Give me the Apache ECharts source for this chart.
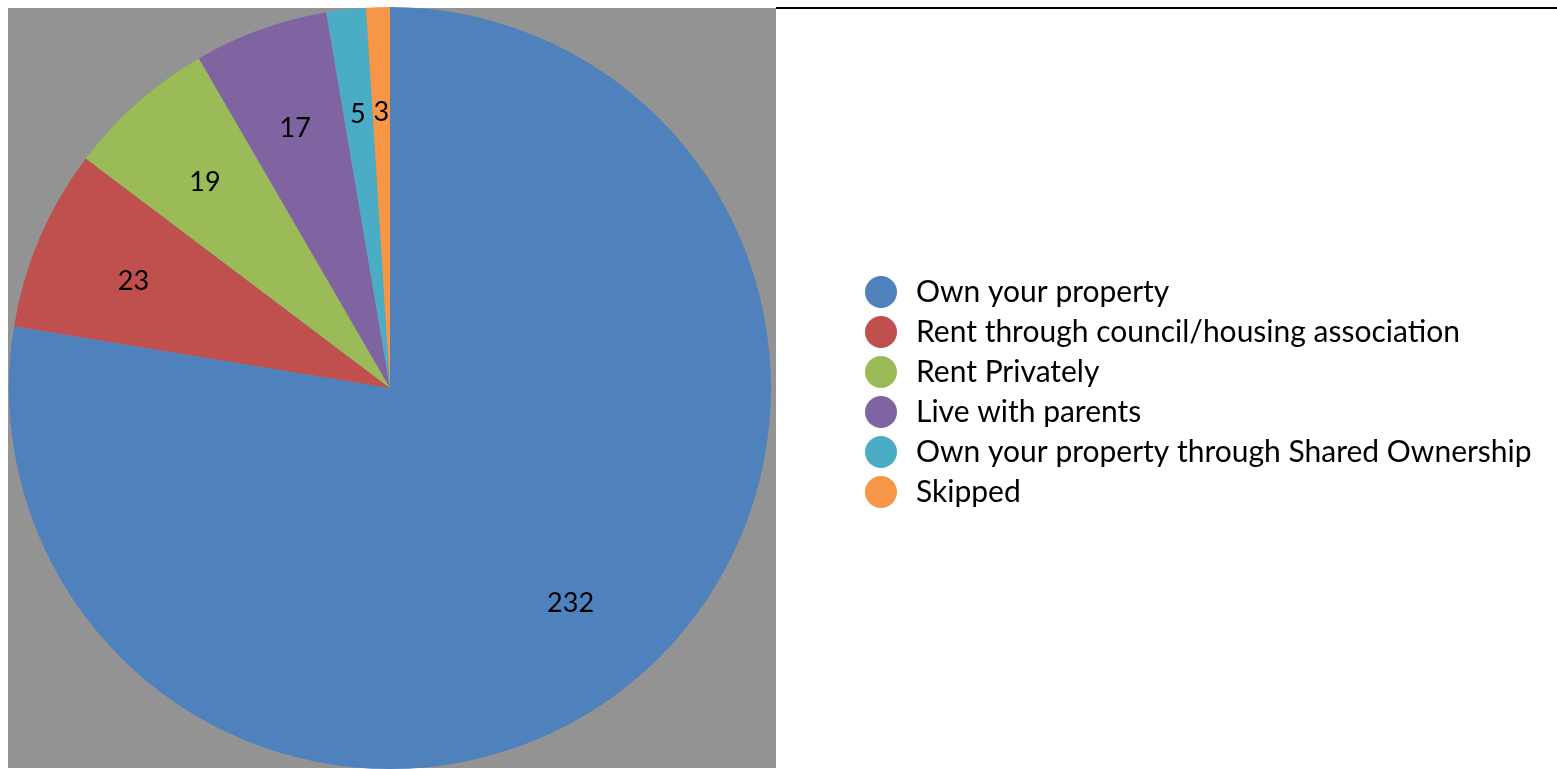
<!DOCTYPE html>
<html><head><meta charset="utf-8">
<script src="https://cdn.jsdelivr.net/npm/echarts@6/dist/echarts.min.js"></script>
<style>html,body{margin:0;padding:0;background:#fff}#c{width:1557px;height:769px}</style>
</head><body><div id="c"></div>
<script>
const categories = ['Own your property','Rent through council/housing association','Rent Privately','Live with parents','Own your property through Shared Ownership','Skipped'];
const values = [232, 23, 19, 17, 5, 3];
const colors = ['#4F81BD','#C0504D','#9BBB59','#8064A2','#4BACC6','#F79646'];

const data = categories.map((n,i)=>({name:n, value:values[i], itemStyle:{color:colors[i]}}));
const chart = echarts.init(document.getElementById('c'));
const FONT = 'Lato, "Open Sans", sans-serif';
chart.setOption({
  animation:false,
  graphic:[
    {type:'rect', z:-10, shape:{x:8,y:8,width:768,height:760}, style:{fill:'#939393'}},
    {type:'line', shape:{x1:776,y1:8,x2:1557,y2:8}, style:{stroke:'#000',lineWidth:2}}
  ],
  legend:{
    orient:'vertical', left:860, top:271,
    icon:'circle', itemWidth:32, itemHeight:32, itemGap:8,
    data:categories,
    textStyle:{fontFamily:FONT, fontSize:30, lineHeight:32, color:'#000', padding:[0,0,0,14]}
  },
  series:[
    {type:'pie', center:[390,388], radius:[0,381], startAngle:90, clockwise:true,
     data:data, label:{show:false}, labelLine:{show:false}, emphasis:{disabled:true}},
    {type:'pie', center:[390,388], radius:[171,381], startAngle:90, clockwise:true,
     silent:true, legendHoverLink:false,
     data:categories.map((n,i)=>({name:n+' ', value:values[i], itemStyle:{color:'rgba(0,0,0,0)'}})),
     label:{show:true, position:'inside', formatter:'{c}', fontFamily:FONT, fontSize:27, color:'#000', offset:[0,3]},
     labelLine:{show:false}, emphasis:{disabled:true}}
  ]
});
</script></body></html>
